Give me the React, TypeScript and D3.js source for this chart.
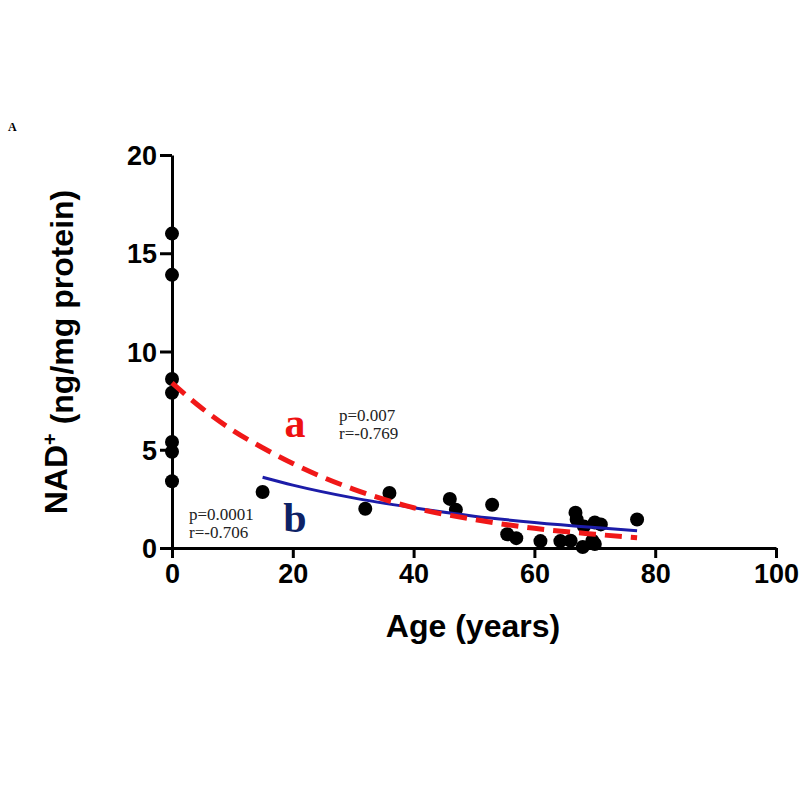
import { useEffect, useRef } from "react"
import * as d3 from "d3"

// Scatter data (age in years, NAD+ ng/mg protein)
const ages = [0, 0, 0, 0, 0, 0, 0, 15, 32, 36, 46, 47, 53, 55.5, 57, 61, 64.3, 66, 66.8, 67, 68, 68.2, 69.6, 70, 70, 71, 77]
const nadValues = [16.0, 13.9, 8.6, 7.9, 5.4, 4.9, 3.4, 2.85, 2.0, 2.8, 2.5, 1.95, 2.2, 0.7, 0.5, 0.35, 0.35, 0.37, 1.8, 1.45, 0.05, 1.1, 0.37, 0.2, 1.3, 1.2, 1.45]

// Fitted curve a (red dashed)
const curveAAges = [0, 5, 10, 15, 20, 25, 30, 40, 50, 60, 70, 77]
const curveAValues = [8.4, 7.1, 6.0, 5.1, 4.3, 3.6, 3.0, 2.05, 1.45, 1.0, 0.7, 0.52]

// Fitted curve b (blue solid)
const curveBAges = [15, 20, 30, 40, 50, 60, 70, 77]
const curveBValues = [3.6, 3.2, 2.55, 2.05, 1.62, 1.3, 1.04, 0.88]

const xTicks = [0, 20, 40, 60, 80, 100]
const yTicks = [0, 5, 10, 15, 20]

export default function App() {
  const ref = useRef<SVGSVGElement>(null)

  useEffect(() => {
    const svg = d3.select(ref.current)
    svg.selectAll("*").remove()

    const x = d3.scaleLinear().domain([0, 100]).range([172, 776])
    const y = d3.scaleLinear().domain([0, 20]).range([548, 155])

    const axisFont = "Liberation Sans, Arial, sans-serif"

    // Panel letter
    svg.append("text")
      .attr("x", 8).attr("y", 131)
      .style("font-family", "Liberation Serif, Times New Roman, serif")
      .style("font-weight", "bold").style("font-size", "12px")
      .text("A")

    // X axis
    const xAxis = svg.append("g")
      .attr("transform", `translate(0,${y(0)})`)
      .call(d3.axisBottom(x).tickValues(xTicks).tickSize(10).tickSizeOuter(0).tickPadding(6))
    xAxis.select(".domain").attr("stroke", "#000").attr("stroke-width", 3)
    xAxis.selectAll(".tick line").attr("stroke", "#000").attr("stroke-width", 3)
    xAxis.selectAll(".tick text")
      .style("font-family", axisFont).style("font-weight", "bold").style("font-size", "27px").attr("fill", "#000")

    // Y axis
    const yAxis = svg.append("g")
      .attr("transform", `translate(${x(0)},0)`)
      .call(d3.axisLeft(y).tickValues(yTicks).tickSize(12).tickSizeOuter(0).tickPadding(3))
    yAxis.select(".domain").attr("stroke", "#000").attr("stroke-width", 3)
    yAxis.selectAll(".tick line").attr("stroke", "#000").attr("stroke-width", 3)
    yAxis.selectAll(".tick text")
      .style("font-family", axisFont).style("font-weight", "bold").style("font-size", "27px").attr("fill", "#000")
      .attr("dy", "0.36em")

    // Axis titles
    svg.append("text")
      .attr("x", 473).attr("y", 637)
      .attr("text-anchor", "middle")
      .style("font-family", axisFont).style("font-weight", "bold").style("font-size", "32px")
      .text("Age (years)")

    const yTitle = svg.append("text")
      .attr("transform", `translate(67,352) rotate(-90)`)
      .attr("text-anchor", "middle")
      .style("font-family", axisFont).style("font-weight", "bold").style("font-size", "32px")
    yTitle.append("tspan").text("NAD")
    yTitle.append("tspan").attr("dy", "-0.5em").style("font-size", "20px").text("+")
    yTitle.append("tspan").attr("dy", "0.5em").text(" (ng/mg protein)")

    // Points
    svg.append("g")
      .selectAll("circle")
      .data(ages.map((a, i) => [a, nadValues[i]]))
      .enter()
      .append("circle")
      .attr("cx", (d) => x(d[0]))
      .attr("cy", (d) => y(d[1]))
      .attr("r", 7)
      .attr("fill", "#000")

    const line = d3.line<[number, number]>()
      .x((d) => x(d[0]))
      .y((d) => y(d[1]))
      .curve(d3.curveMonotoneX)

    // Curve b (blue)
    svg.append("path")
      .datum(curveBAges.map((a, i) => [a, curveBValues[i]] as [number, number]))
      .attr("d", line)
      .attr("fill", "none")
      .attr("stroke", "#1c1ca8")
      .attr("stroke-width", 3)

    // Curve a (red dashed)
    svg.append("path")
      .datum(curveAAges.map((a, i) => [a, curveAValues[i]] as [number, number]))
      .attr("d", line)
      .attr("fill", "none")
      .attr("stroke", "#f01818")
      .attr("stroke-width", 5)
      .attr("stroke-dasharray", "17,9")

    // Curve labels
    svg.append("text")
      .attr("x", 295).attr("y", 437)
      .attr("text-anchor", "middle")
      .style("font-family", "Liberation Serif, Times New Roman, serif")
      .style("font-weight", "bold").style("font-size", "42px")
      .attr("fill", "#ee1111")
      .text("a")

    svg.append("text")
      .attr("x", 295).attr("y", 532)
      .attr("text-anchor", "middle")
      .style("font-family", "Liberation Serif, Times New Roman, serif")
      .style("font-weight", "bold").style("font-size", "42px")
      .attr("fill", "#0d2266")
      .text("b")

    const statFont = "Liberation Serif, Times New Roman, serif"
    const statsA = ["p=0.007", "r=-0.769"]
    statsA.forEach((s, i) => {
      svg.append("text")
        .attr("x", 339).attr("y", 421 + i * 18)
        .style("font-family", statFont).style("font-size", "17px")
        .attr("fill", "#222")
        .text(s)
    })
    const statsB = ["p=0.0001", "r=-0.706"]
    statsB.forEach((s, i) => {
      svg.append("text")
        .attr("x", 189).attr("y", 520 + i * 18)
        .style("font-family", statFont).style("font-size", "17px")
        .attr("fill", "#222")
        .text(s)
    })
  }, [])

  return (
    <svg
      ref={ref}
      width={810}
      height={810}
      style={{ position: "absolute", left: 0, top: 0, background: "#fff" }}
    />
  )
}
